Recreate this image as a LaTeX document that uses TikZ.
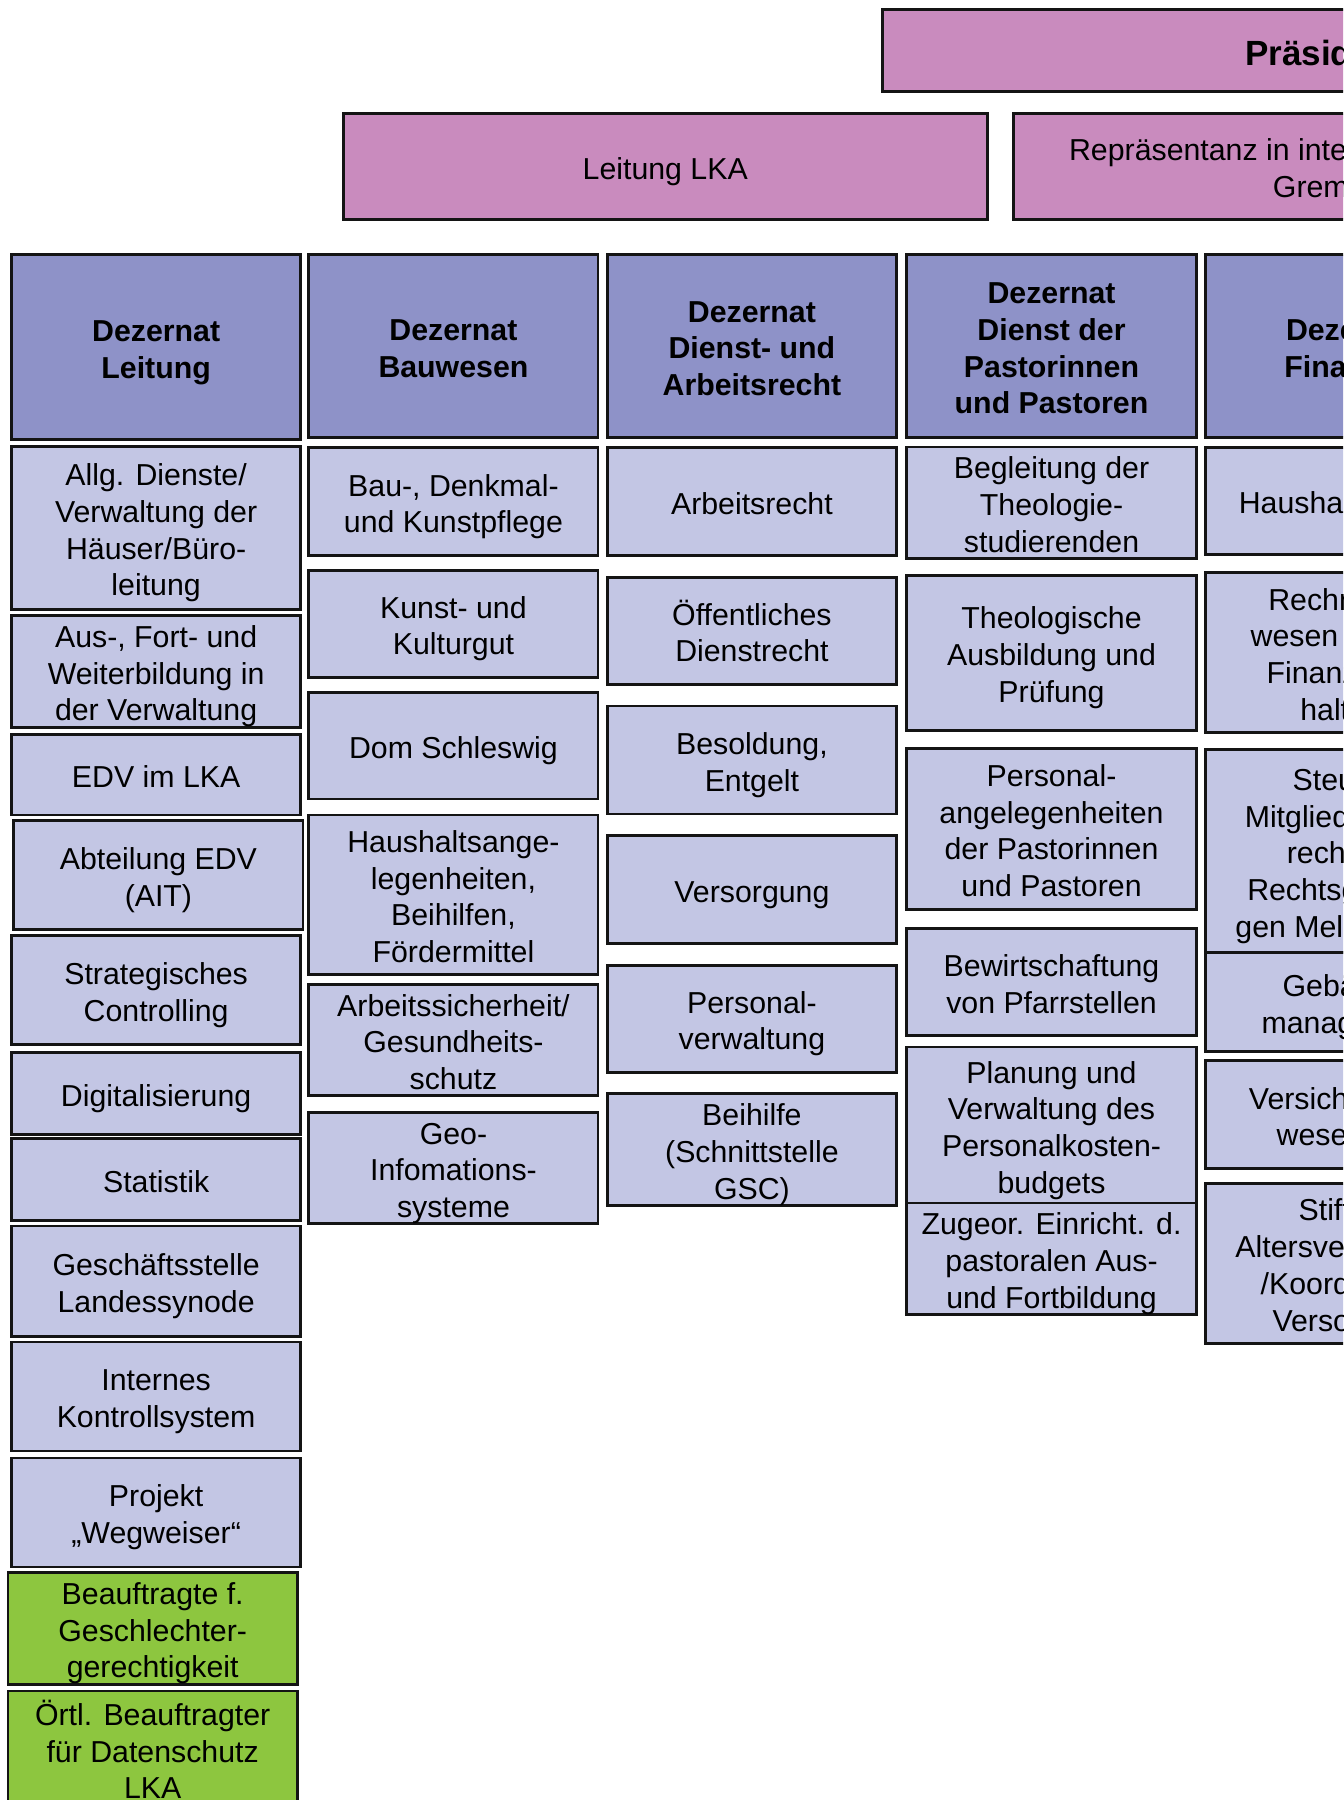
\documentclass[tikz,border=0pt]{standalone}
\usepackage{fontspec}
\setmainfont{Liberation Sans}
\definecolor{cPink}{RGB}{201,139,190}
\definecolor{cHead}{RGB}{142,146,200}
\definecolor{cItem}{RGB}{195,198,228}
\definecolor{cGreen}{RGB}{141,198,63}
\definecolor{cEdge}{RGB}{20,20,20}
\tikzset{
 basebox/.style={draw=cEdge, line width=2.8pt, inner sep=0pt, align=center, anchor=center,
   font=\fontsize{30.3}{36.7}\selectfont},
 pinkbox/.style={basebox, fill=cPink},
 headbox/.style={basebox, fill=cHead, font=\fontsize{30.3}{36.7}\selectfont\bfseries},
 itembox/.style={basebox, fill=cItem},
 greenbox/.style={basebox, fill=cGreen},
}
\newcommand\tstrut{\rule{0pt}{1.05em}}
\newcommand\bstrut{\rule[-0.212em]{0pt}{0pt}}
\newcommand\bx[7]{\node[#1, minimum width={(#5-#3)*1.1479pt}, minimum height={(#6-#4)*1.1479pt}]
  (#2) at ({(#3+#5)/2},{(#4+#6)/2}) {\tstrut#7\bstrut};}
\begin{document}
\begin{tikzpicture}[x=1.1479pt, y=-1.1479pt]
\useasboundingbox (0,0) rectangle (1170,1568);
\clip (0,0) rectangle (1170,1568);
% top level
\bx{pinkbox, font=\fontsize{35}{40}\selectfont\bfseries}{praes}{769}{8}{1548}{80}{Präsidium}
\bx{pinkbox}{leitung}{299}{99}{860}{191}{Leitung LKA}
\bx{pinkbox}{repr}{883}{99}{1436}{191}{Repräsentanz in internen und externen\\Gremien}
% headers
\bx{headbox}{h1}{10}{222}{262}{383}{Dezernat\\Leitung}
\bx{headbox}{h2}{269}{222}{521}{381}{Dezernat\\Bauwesen}
\bx{headbox}{h3}{529}{222}{781}{381}{Dezernat\\Dienst- und\\Arbeitsrecht}
\bx{headbox}{h4}{790}{222}{1042}{381}{Dezernat\\Dienst der\\Pastorinnen\\und Pastoren}
\bx{headbox}{h5}{1050}{222}{1302}{381}{Dezernat\\Finanzen}
% column 1
\bx{itembox}{a1}{10}{389}{262}{531}{Allg. Dienste/\\Verwaltung der\\Häuser/Büro-\\leitung}
\bx{itembox}{a2}{10}{536}{262}{634}{Aus-, Fort- und\\Weiterbildung in\\der Verwaltung}
\bx{itembox}{a3}{10}{640}{262}{710}{EDV im LKA}
\bx{itembox}{a4}{12}{715}{264}{810}{Abteilung EDV\\(AIT)}
\bx{itembox}{a5}{10}{815}{262}{910}{Strategisches\\Controlling}
\bx{itembox}{a6}{10}{917}{262}{988}{Digitalisierung}
\bx{itembox}{a7}{10}{992}{262}{1063}{Statistik}
\bx{itembox}{a8}{10}{1068}{262}{1164}{Geschäftsstelle\\Landessynode}
\bx{itembox}{a9}{10}{1169}{262}{1264}{Internes\\Kontrollsystem}
\bx{itembox}{a10}{10}{1270}{262}{1365}{Projekt\\„Wegweiser“}
\bx{greenbox}{g1}{7}{1370}{259}{1467}{Beauftragte f.\\Geschlechter-\\gerechtigkeit}
\bx{greenbox}{g2}{7}{1473}{259}{1575}{Örtl. Beauftragter\\für Datenschutz\\LKA}
% column 2
\bx{itembox}{b1}{269}{390}{521}{484}{Bau-, Denkmal-\\und Kunstpflege}
\bx{itembox}{b2}{269}{497}{521}{590}{Kunst- und\\Kulturgut}
\bx{itembox}{b3}{269}{603}{521}{696}{Dom Schleswig}
\bx{itembox}{b4}{269}{710}{521}{849}{Haushaltsange-\\legenheiten,\\Beihilfen,\\Fördermittel}
\bx{itembox}{b5}{269}{858}{521}{954}{Arbeitssicherheit/\\Gesundheits-\\schutz}
\bx{itembox}{b6}{269}{971}{521}{1064}{Geo-\\Infomations-\\systeme}
% column 3
\bx{itembox}{c1}{529}{390}{781}{484}{Arbeitsrecht}
\bx{itembox}{c2}{529}{503}{781}{596}{Öffentliches\\Dienstrecht}
\bx{itembox}{c3}{529}{615}{781}{709}{Besoldung,\\Entgelt}
\bx{itembox}{c4}{529}{728}{781}{822}{Versorgung}
\bx{itembox}{c5}{529}{841}{781}{934}{Personal-\\verwaltung}
\bx{itembox}{c6}{529}{954}{781}{1049}{Beihilfe\\(Schnittstelle\\GSC)}
% column 4
\bx{itembox}{d1}{790}{390}{1042}{486}{Begleitung der\\Theologie-\\studierenden}
\bx{itembox}{d2}{790}{501}{1042}{636}{Theologische\\Ausbildung und\\Prüfung}
\bx{itembox}{d3}{790}{652}{1042}{792}{Personal-\\angelegenheiten\\der Pastorinnen\\und Pastoren}
\bx{itembox}{d4}{790}{809}{1042}{902}{Bewirtschaftung\\von Pfarrstellen}
\bx{itembox}{d5}{790}{912}{1042}{1049}{Planung und\\Verwaltung des\\Personalkosten-\\budgets}
\bx{itembox}{d6}{790}{1049}{1042}{1144}{Zugeor. Einricht. d.\\pastoralen Aus-\\und Fortbildung}
% column 5
\bx{itembox}{e1}{1050}{390}{1302}{483}{Haushaltswesen}
\bx{itembox}{e2}{1050}{499}{1302}{638}{Rechnungs-\\wesen und der\\Finanzbuch-\\haltung}
\bx{itembox}{e3}{1050}{653}{1302}{830}{Steuern,\\Mitgliedschafts-\\recht und\\Rechtsgrundla-\\gen Meldewesen}
\bx{itembox}{e4}{1050}{830}{1302}{916}{Gebäude-\\management}
\bx{itembox}{e5}{1050}{924}{1302}{1018}{Versicherungs-\\wesen und}
\bx{itembox}{e6}{1050}{1031}{1302}{1170}{Stiftung\\Altersversorgung\\/Koordination\\Versorgung}
\end{tikzpicture}
\end{document}
